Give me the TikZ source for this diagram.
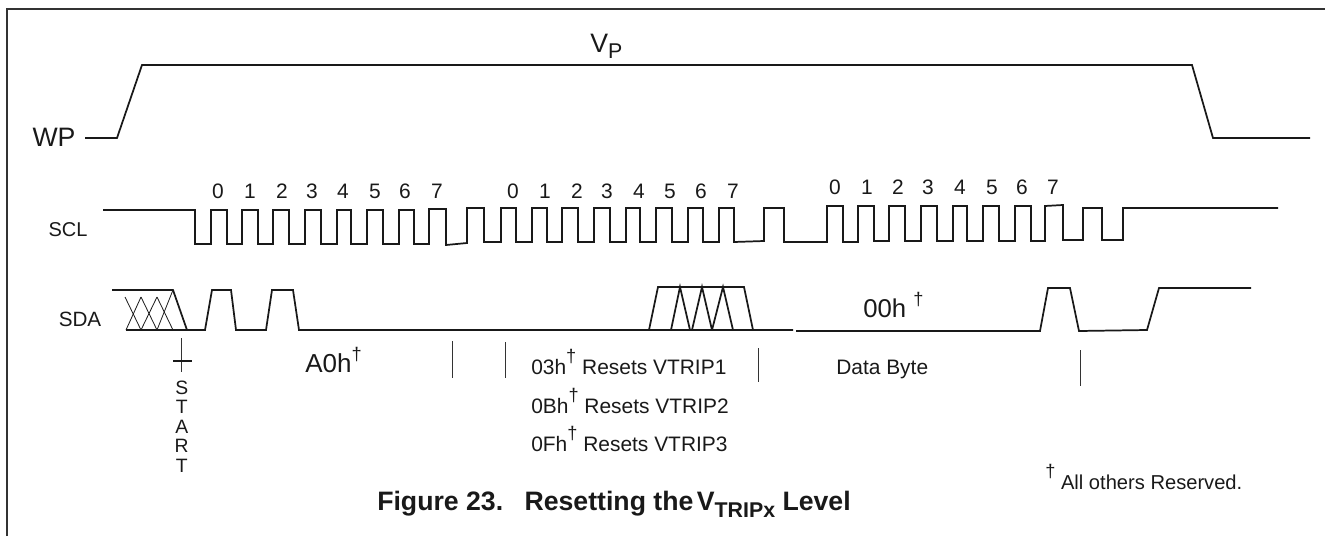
\documentclass[tikz,border=0pt]{standalone}
\usepackage{fontspec}
\setmainfont{Liberation Sans}
\tikzset{
    signal/.style={line width=1.3pt, black!90, line join=miter},
    hatch/.style={line width=0.6pt, black!90},
    tick/.style={line width=0.7pt, black!80},
    lbl/.style={inner sep=0pt, text=black!90},
    txt/.style={lbl, anchor=base west},
}
\newcommand{\dg}{\raisebox{9pt}{\fontsize{13.7}{13.7}\selectfont\textdagger}}
\begin{document}
\begin{tikzpicture}[x=0.75pt, y=-0.75pt]
                \useasboundingbox (0,0) rectangle (1325,536);
                \draw [line width=0.8pt, black!80] (7,536) -- (7,9) -- (1325,9);
                % WP
                \node [lbl, font=\fontsize{20}{20}\selectfont] (wp) at (54,137) {WP};
                \draw [signal] (85,138) -- (117,138) -- (142,65) -- (1192,65) -- (1213,138) -- (1310,138);
                \node [txt, font=\fontsize{20}{20}\selectfont] (vp) at (590,52) {V\raisebox{-5pt}{\fontsize{16}{16}\selectfont P}};
                % SCL
                \node [lbl, font=\fontsize{15}{15}\selectfont] (scl) at (68,230) {SCL};
                \draw [signal] (103,210) -- (195,210) -- (195,244) -- (211,244) -- (211,210) -- (227,210) -- (227,244)
                    -- (242,244) -- (242,210) -- (258,210) -- (258,244) -- (273,244) -- (273,210) -- (289,210) -- (289,244)
                    -- (305,244) -- (305,210) -- (321,210) -- (321,244) -- (337,244) -- (337,210) -- (351,210) -- (351,244)
                    -- (367,244) -- (367,210) -- (383,210) -- (383,244) -- (399,244) -- (399,210) -- (414,210) -- (414,244)
                    -- (429,244) -- (429,209) -- (446,209) -- (446,245) -- (467,243) -- (467,208) -- (484,208) -- (484,242)
                    -- (501,242) -- (501,208) -- (516,208) -- (516,242) -- (532,242) -- (532,208) -- (547,208) -- (547,242)
                    -- (562,242) -- (562,208) -- (578,208) -- (578,242) -- (594,242) -- (594,208) -- (610,208) -- (610,242)
                    -- (626,242) -- (626,208) -- (640,208) -- (640,242) -- (656,242) -- (656,208) -- (672,208) -- (672,242)
                    -- (688,242) -- (688,208) -- (703,208) -- (703,242) -- (719,242) -- (719,208) -- (734,208) -- (734,242)
                    -- (764,241) -- (764,208) -- (784,208) -- (784,242) -- (827,242) -- (827,206) -- (843,206) -- (843,242)
                    -- (858,242) -- (858,206) -- (874,206) -- (874,241) -- (889,241) -- (889,206) -- (905,206) -- (905,241)
                    -- (921,241) -- (921,206) -- (937,206) -- (937,241) -- (953,241) -- (953,206) -- (967,206) -- (967,241)
                    -- (983,241) -- (983,206) -- (999,206) -- (999,241) -- (1015,241) -- (1015,206) -- (1031,206) -- (1031,241)
                    -- (1045,241) -- (1045,206) -- (1063,205) -- (1063,240) -- (1083,240) -- (1083,208) -- (1102,208) -- (1102,240)
                    -- (1123,240) -- (1123,208) -- (1278,208);
                % bit numbers
                \foreach \x/\n in {218/0,250/1,282/2,312/3,343/4,375/5,405/6,437/7,513/0,545/1,577/2,607/3,639/4,670/5,701/6,733/7} {
                    \node [lbl, font=\fontsize{15.7}{15.7}\selectfont] (bit\x) at (\x,191) {\n};
                }
                \foreach \x/\n in {835/0,867/1,898/2,928/3,960/4,992/5,1022/6,1053/7} {
                    \node [lbl, font=\fontsize{15.7}{15.7}\selectfont] (bit\x) at (\x,187) {\n};
                }
                % SDA
                \node [lbl, font=\fontsize{15.5}{15.5}\selectfont] (sda) at (80,319) {SDA};
                \draw [signal] (112,290) -- (173,290) -- (187,330);
                \draw [signal] (126,330) -- (205,330) -- (212,290) -- (231,290) -- (236,330) -- (266,330) -- (272,290) -- (293,290)
                    -- (299,330) -- (793,330);
                \draw [signal] (796,331) -- (1040,331) -- (1048,288) -- (1070,288) -- (1079,331) -- (1147,330) -- (1159,288) -- (1251,288);
                \draw [hatch] (125,297) -- (141,330);
                \draw [hatch] (141,297) -- (157,330);
                \draw [hatch] (157,297) -- (173,330);
                \draw [hatch] (126,330) -- (141,297);
                \draw [hatch] (141,330) -- (157,297);
                \draw [hatch] (157,330) -- (173,290);
                % data fan
                \draw [signal] (649,330) -- (658,287) -- (744,287) -- (753,330);
                \draw [signal] (671,330) -- (680,287) -- (690,330);
                \draw [signal] (692,330) -- (702,287) -- (712,330);
                \draw [signal] (712,330) -- (723,287) -- (733,330);
                % ticks
                \draw [tick] (181.5,338) -- (181.5,372);
                \draw [signal] (173,361) -- (192,361);
                \draw [tick] (452,341) -- (452,378);
                \draw [tick] (505,342) -- (505,378);
                \draw [tick] (758,348) -- (758,382);
                \draw [tick] (1080,350) -- (1080,386);
                % labels
                \node [lbl, font=\fontsize{14.5}{14.6}\selectfont, align=center] (start) at (181.7,426.5) {S\\T\\A\\R\\T};
                \node [txt, font=\fontsize{19.5}{19.5}\selectfont] (a0h) at (305,372) {A0h\dg};
                \node [txt, font=\fontsize{15.7}{15.7}\selectfont] (res1) at (531,374) {03h\dg\ Resets VTRIP1};
                \node [txt, font=\fontsize{15.7}{15.7}\selectfont] (res2) at (531,413) {0Bh\dg\ Resets VTRIP2};
                \node [txt, font=\fontsize{15.7}{15.7}\selectfont] (res3) at (531,451) {0Fh\dg\ Resets VTRIP3};
                \node [txt, font=\fontsize{15.7}{15.7}\selectfont] (dbyte) at (836,374) {Data Byte};
                \node [txt, font=\fontsize{19.3}{19.3}\selectfont] (zeroh) at (863,317) {00h \dg};
                \node [txt, font=\fontsize{15.1}{15.1}\selectfont] (note) at (1045,489) {\dg\ All others Reserved.};
                \node [txt, font=\bfseries\fontsize{20}{20}\selectfont] (caption) at (377,510) {Figure 23.\hspace{16pt}Resetting the\hspace{-3pt} V\raisebox{-5.3pt}{\fontsize{16}{16}\selectfont TRIPx} Level};
            \end{tikzpicture}
\end{document}
